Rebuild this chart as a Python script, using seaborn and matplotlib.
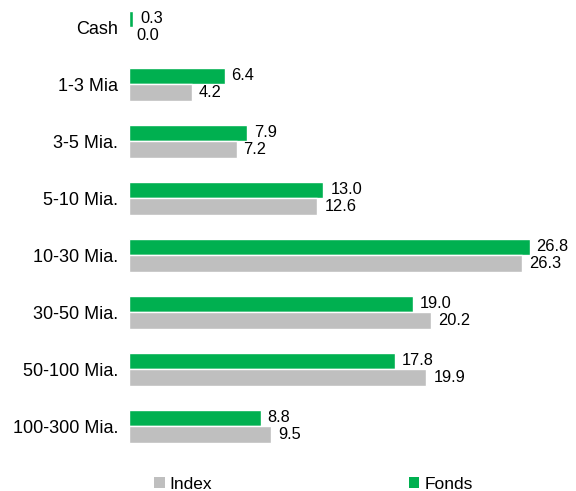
import matplotlib
matplotlib.use("Agg")
import matplotlib.pyplot as plt
import seaborn as sns
import pandas as pd
from matplotlib.patches import Patch

categories = ["Cash", "1-3 Mia", "3-5 Mia.", "5-10 Mia.", "10-30 Mia.", "30-50 Mia.", "50-100 Mia.", "100-300 Mia."]
fonds = [0.3, 6.4, 7.9, 13.0, 26.8, 19.0, 17.8, 8.8]
index = [0.0, 4.2, 7.2, 12.6, 26.3, 20.2, 19.9, 9.5]

GREEN = "#00B050"
GRAY = "#BFBFBF"

df = pd.DataFrame({
    "cat": categories * 2,
    "val": fonds + index,
    "series": ["Fonds"] * len(categories) + ["Index"] * len(categories),
})

sns.set_theme(style="white")
plt.rcParams["font.family"] = ["Liberation Sans", "DejaVu Sans"]

fig = plt.figure(figsize=(5.76, 4.91), dpi=100)
ax = fig.add_axes([129 / 576, 0.074, 441 / 576, 0.929])

sns.barplot(data=df, y="cat", x="val", hue="series", hue_order=["Fonds", "Index"],
            order=categories, palette={"Fonds": GREEN, "Index": GRAY},
            orient="h", width=0.58, gap=0, ax=ax, legend=False, saturation=1)

for cont in ax.containers:
    ax.bar_label(cont, fmt="%.1f", padding=5, fontsize=11.8, color="#000000")

ax.set_xlim(0, 29.5)
ax.set_xlabel("")
ax.set_ylabel("")
ax.set_xticks([])
ax.tick_params(axis="y", length=0, pad=8, labelsize=13, labelcolor="#000000")
for s in ax.spines.values():
    s.set_visible(False)

handles = [Patch(facecolor=GRAY, edgecolor="none", label="Index"),
           Patch(facecolor=GREEN, edgecolor="none", label="Fonds")]
fig.legend(handles=handles, loc="center", bbox_to_anchor=(0.544, 0.014), ncol=2,
           frameon=False, fontsize=12.5, handlelength=0.6, handleheight=0.6,
           handletextpad=0.3, columnspacing=11.3, labelcolor="#000000")

fig.savefig("out.png", dpi=100)
